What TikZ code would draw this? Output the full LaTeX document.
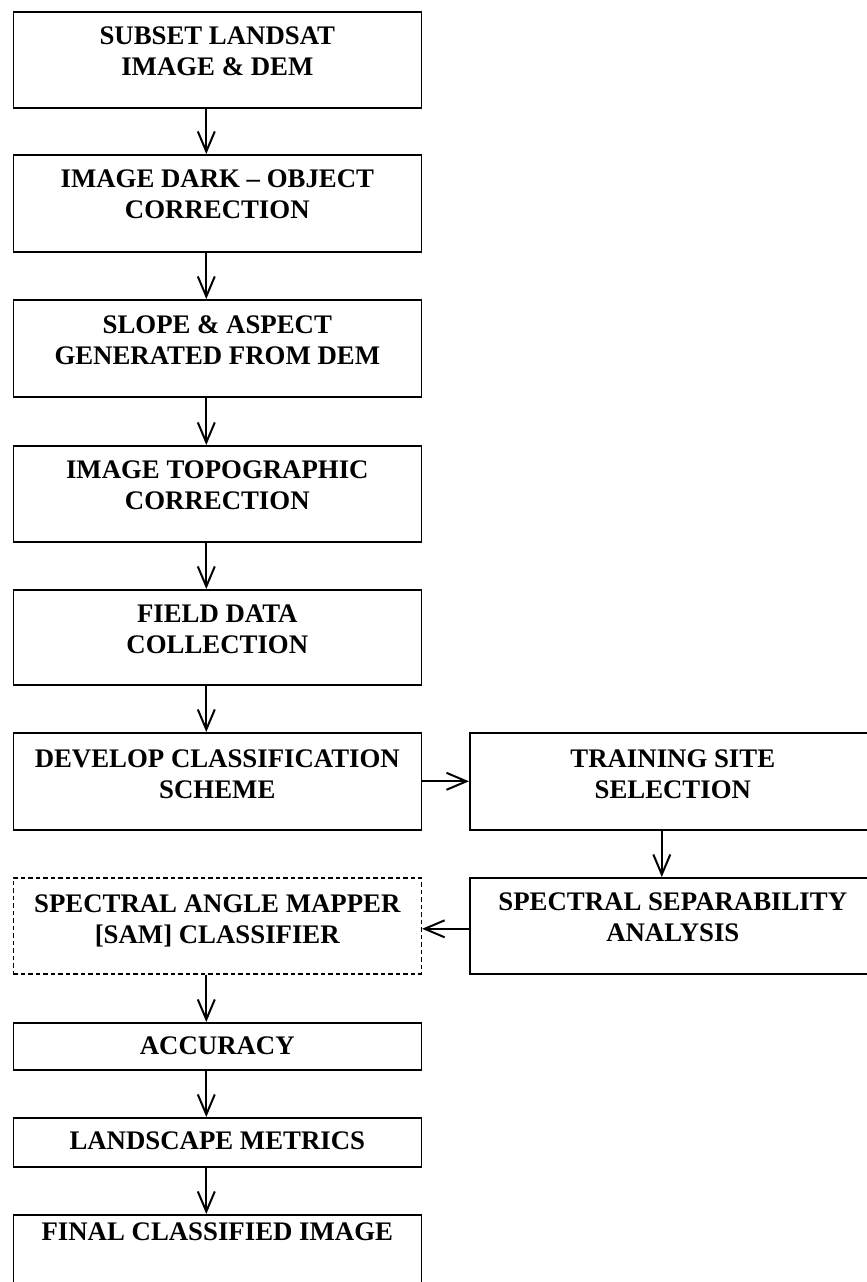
\documentclass[tikz,border=0pt]{standalone}
\usepackage{fontspec}
\setmainfont{Liberation Serif}
\usetikzlibrary{arrows.meta}
\begin{document}
\begin{tikzpicture}[x=1pt,y=-1pt,
  box/.style={draw, line width=1.6pt, minimum width=408pt, inner sep=0pt, anchor=north west},
  rbox/.style={draw, line width=1.6pt, minimum width=406pt, inner sep=0pt, anchor=north west},
  dbox/.style={box, dash pattern=on 4.5pt off 3pt},
  txt/.style={font=\bfseries\fontsize{26.8}{31}\selectfont, align=center, inner sep=0pt, anchor=north},
  arr/.style={line width=2pt, -{Straight Barb[length=20pt,width=17pt]}}]
\useasboundingbox (0,0) rectangle (867,1282);
\clip (0,0) rectangle (867,1282);
\fill[white] (0,0) rectangle (867,1282);

% left column boxes
\node[box, minimum height=96pt] (b1) at (12.5,11) {};
\node[box, minimum height=97pt] (b2) at (12.5,154) {};
\node[box, minimum height=97pt] (b3) at (12.5,299) {};
\node[box, minimum height=96pt] (b4) at (12.5,445) {};
\node[box, minimum height=95pt] (b5) at (12.5,589) {};
\node[box, minimum height=97pt] (b6) at (12.5,732) {};
\node[dbox, minimum height=96pt] (b7) at (12.5,877) {};
\node[box, minimum height=47pt] (b8) at (12.5,1022) {};
\node[box, minimum height=49pt] (b9) at (12.5,1117) {};
\node[box, minimum height=90pt] (b10) at (12.5,1214) {};
% right column boxes
\node[rbox, minimum height=97pt] (r1) at (469,732) {};
\node[rbox, minimum height=96pt] (r2) at (469,877) {};

% texts
\node[txt] (t1) at ([yshift=-16pt]b1.north) {SUBSET LANDSAT\\IMAGE \& DEM};
\node[txt] (t2) at ([yshift=-16pt]b2.north) {IMAGE DARK -- OBJECT\\CORRECTION};
\node[txt] (t3) at ([yshift=-16pt]b3.north) {SLOPE \& ASPECT\\GENERATED FROM DEM};
\node[txt] (t4) at ([yshift=-16pt]b4.north) {IMAGE TOPOGRAPHIC\\CORRECTION};
\node[txt] (t5) at ([yshift=-16pt]b5.north) {FIELD DATA\\COLLECTION};
\node[txt] (t6) at ([yshift=-18pt]b6.north) {DEVELOP CLASSIFICATION\\SCHEME};
\node[txt] (t7) at ([yshift=-18pt]b7.north) {SPECTRAL ANGLE MAPPER\\{[SAM]} CLASSIFIER};
\node[txt] (t8) at ([yshift=-15pt]b8.north) {ACCURACY};
\node[txt] (t9) at ([yshift=-15pt]b9.north) {LANDSCAPE METRICS};
\node[txt] (t10) at ([yshift=-8.5pt]b10.north) {FINAL CLASSIFIED IMAGE};
\node[txt] (tr1) at ([yshift=-18pt]r1.north) {TRAINING SITE\\SELECTION};
\node[txt] (tr2) at ([yshift=-16pt]r2.north) {SPECTRAL SEPARABILITY\\ANALYSIS};

% connectors
\draw[arr] ([xshift=-11pt]b1.south) -- ([xshift=-11pt]b2.north);
\draw[arr] ([xshift=-11pt]b2.south) -- ([xshift=-11pt]b3.north);
\draw[arr] ([xshift=-11pt]b3.south) -- ([xshift=-11pt]b4.north);
\draw[arr] ([xshift=-11pt]b4.south) -- ([xshift=-11pt]b5.north);
\draw[arr] ([xshift=-11pt]b5.south) -- ([xshift=-11pt]b6.north);
\draw[arr] (b6.east) -- (r1.west);
\draw[arr] ([xshift=-11pt]r1.south) -- ([xshift=-11pt]r2.north);
\draw[arr] ([yshift=-3pt]r2.west) -- ([yshift=-3pt]b7.east);
\draw[arr] ([xshift=-11pt]b7.south) -- ([xshift=-11pt]b8.north);
\draw[arr] ([xshift=-11pt]b8.south) -- ([xshift=-11pt]b9.north);
\draw[arr] ([xshift=-11pt]b9.south) -- ([xshift=-11pt]b10.north);
\end{tikzpicture}
\end{document}
